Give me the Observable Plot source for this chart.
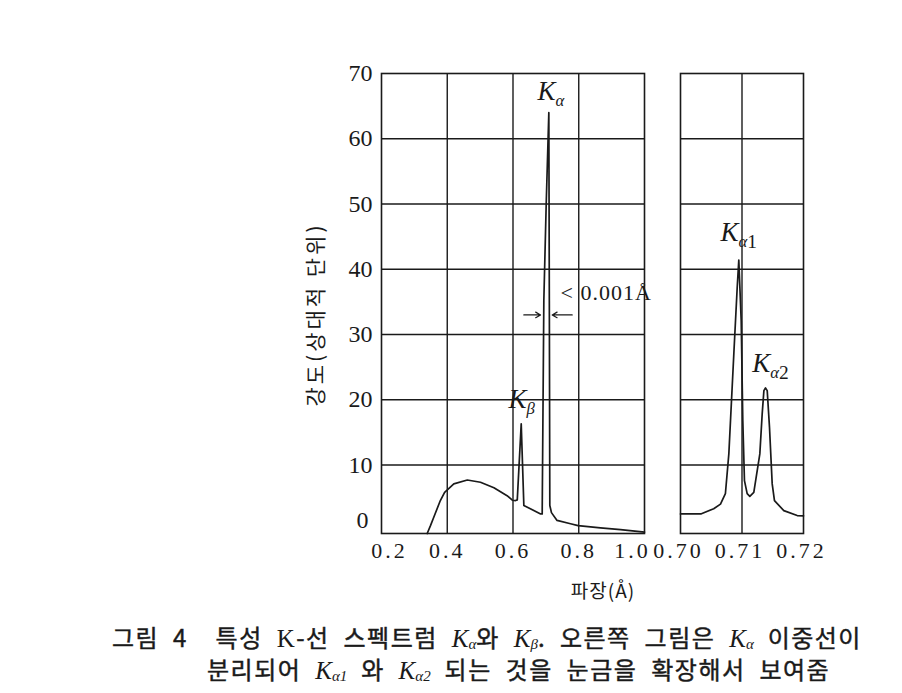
<!DOCTYPE html>
<html><head><meta charset="utf-8">
<script src="https://cdn.jsdelivr.net/npm/d3@7"></script>
<script src="https://cdn.jsdelivr.net/npm/@observablehq/plot@0.6"></script>
<style>
html,body{margin:0;padding:0;background:#fff;}
#wrap{position:relative;width:902px;height:693px;overflow:hidden;background:#fff;}
#wrap svg{position:absolute;left:0;top:0;}
#wrap svg [aria-label="x-axis tick label"] text{letter-spacing:3px;}
.cap{position:absolute;white-space:nowrap;font-family:"Noto Sans CJK KR";font-size:24px;line-height:24px;height:24px;color:#1a1a1a;letter-spacing:1.5px;word-spacing:7px;font-weight:400;-webkit-text-stroke:0.45px #1a1a1a;}
.cap i{font-family:"Liberation Serif";font-size:25px;line-height:24px;font-weight:normal;letter-spacing:0;-webkit-text-stroke:0;}
.cap .rm{font-family:"Liberation Serif";font-size:25px;line-height:24px;font-weight:normal;-webkit-text-stroke:0;}
.cap i sub{font-size:60%;line-height:0;vertical-align:baseline;position:relative;top:0.15em;}
</style></head>
<body><div id="wrap"></div>
<script>
// ---- data ----
const spectrumWavelength = [0.339, 0.349, 0.359, 0.379, 0.392, 0.420, 0.461, 0.501, 0.542, 0.582, 0.598, 0.608, 0.613, 0.625, 0.633, 0.684, 0.6888, 0.6938, 0.7011, 0.709, 0.7105, 0.712, 0.717, 0.734, 0.775, 0.798, 0.866, 0.927, 1.0];
const spectrumIntensity  = [-0.5, 0.7, 2.0, 4.55, 5.8, 7.1, 7.7, 7.35, 6.5, 5.3, 4.6, 4.55, 4.65, 16.3, 3.8, 2.5, 2.5, 35.2, 50.2, 64.0, 35.2, 3.8, 2.7, 1.5, 1.0, 0.7, 0.37, 0.1, -0.3];
const doubletWavelength = [0.700, 0.7033, 0.7054, 0.7065, 0.7073, 0.70786, 0.70867, 0.70922, 0.70948, 0.70987, 0.71013, 0.7104, 0.71084, 0.71127, 0.71192, 0.7129, 0.71328, 0.71356, 0.71382, 0.7141, 0.71447, 0.71491, 0.71528, 0.7168, 0.71897, 0.720];
const doubletIntensity  = [2.5, 2.5, 3.3, 4.0, 5.6, 11.7, 27.0, 37.2, 41.4, 32.1, 16.8, 7.6, 5.6, 5.2, 5.8, 11.7, 17.8, 21.4, 21.8, 21.4, 15.8, 7.1, 4.55, 3.0, 2.25, 2.2];
const leftXTicks = [0.2, 0.4, 0.6, 0.8, 1.0];
const rightXTicks = [0.70, 0.71, 0.72];
const yTicks = [0, 10, 20, 30, 40, 50, 60, 70];
const yGrid = [10, 20, 30, 40, 50, 60];
const leftGridX = [0.4, 0.6, 0.8];
const rightGridX = [0.71];
const leftLabelText = ["Kα", "Kβ"];
const leftLabelX = [0.6745, 0.5863];
const leftLabelY = [67.2, 20.1];
const rightLabelText = ["Kα1", "Kα2"];
const rightLabelX = [0.7065, 0.71166];
const rightLabelY = [45.7, 25.6];
const widthNote = "< 0.001Å";
const widthNoteX = 0.7445, widthNoteY = 36.3;
const arrowX1 = [0.6329, 0.7801];
const arrowX2 = [0.6837, 0.7193];
const arrowY = 33.0;
const yLabel = "강도(상대적 단위)";
const xLabel = "파장(Å)";

// ---- build ----
const spectrum = spectrumWavelength.map((w, i) => ({w, v: spectrumIntensity[i]}));
const doublet = doubletWavelength.map((w, i) => ({w, v: doubletIntensity[i]}));
const ink = "#1a1a1a";
const yDomain = [-0.5, 70];
const common = {
  width: 902, height: 600, marginTop: 73, marginBottom: 67,
  style: {background: "transparent", fontFamily: "Liberation Serif", fontSize: "22px", color: ink, overflow: "visible"}
};
const lineStyle = {stroke: ink, strokeOpacity: 1, strokeWidth: 1.4};
const fmt1 = d => d.toFixed(1);

const left = Plot.plot({
  ...common,
  marginLeft: 381, marginRight: 258,
  x: {domain: [0.2, 1.0]},
  y: {domain: yDomain},
  marks: [
    Plot.gridX(leftGridX, lineStyle),
    Plot.gridY(yGrid, lineStyle),
    Plot.frame({stroke: ink, strokeWidth: 1.6}),
    Plot.axisX(leftXTicks.slice(1, 4), {tickSize: 0, tickPadding: 9, tickFormat: fmt1, fontSize: 22, label: null}),
    Plot.axisX(leftXTicks.slice(0, 1), {tickSize: 0, tickPadding: 9, dx: 8, tickFormat: fmt1, fontSize: 22, label: null}),
    Plot.axisX(leftXTicks.slice(4), {tickSize: 0, tickPadding: 9, dx: -12, tickFormat: fmt1, fontSize: 22, label: null}),
    Plot.axisY(yTicks.slice(1), {tickSize: 0, tickPadding: 9, fontSize: 24, label: null}),
    Plot.axisY(yTicks.slice(0, 1), {tickSize: 0, tickPadding: 13, dy: -10, fontSize: 24, label: null}),
    Plot.line(spectrum, {x: "w", y: "v", stroke: ink, strokeWidth: 1.7}),
    Plot.text(leftLabelText, {x: (d, i) => leftLabelX[i], y: (d, i) => leftLabelY[i], textAnchor: "start", fontStyle: "italic", fontSize: 27, fill: ink}),
    Plot.text([widthNote], {x: () => widthNoteX, y: () => widthNoteY, textAnchor: "start", fontSize: 22, fill: ink}),
    Plot.arrow([0, 1], {x1: i => arrowX1[i], x2: i => arrowX2[i], y1: () => arrowY, y2: () => arrowY, stroke: ink, strokeWidth: 1.2, headLength: 7}),
    Plot.text([yLabel], {frameAnchor: "left", textAnchor: "middle", lineAnchor: "middle", dx: -65, dy: 11, rotate: -90, fontFamily: "Noto Sans CJK KR", fontSize: 21, fill: ink}),
    Plot.text([xLabel], {frameAnchor: "bottom", textAnchor: "middle", lineAnchor: "middle", dx: 90, dy: 58, fontFamily: "Noto Sans CJK KR", fontSize: 19, fill: ink})
  ]
});

const right = Plot.plot({
  ...common,
  marginLeft: 680, marginRight: 99,
  x: {domain: [0.70, 0.72]},
  y: {domain: yDomain, axis: null},
  marks: [
    Plot.gridX(rightGridX, lineStyle),
    Plot.gridY(yGrid, lineStyle),
    Plot.frame({stroke: ink, strokeWidth: 1.6}),
    Plot.axisX(rightXTicks, {tickSize: 0, tickPadding: 9, dx: -2, tickFormat: d => d.toFixed(2), fontSize: 22, label: null}),
    Plot.line(doublet, {x: "w", y: "v", stroke: ink, strokeWidth: 1.7}),
    Plot.text(rightLabelText, {x: (d, i) => rightLabelX[i], y: (d, i) => rightLabelY[i], textAnchor: "start", fontStyle: "italic", fontSize: 27, fill: ink})
  ]
});

const wrap = document.getElementById("wrap");
wrap.append(left, right);

// subscripts for K labels, letter spacing for Korean axis labels
for (const svg of [left, right]) {
  d3.select(svg).selectAll("text").each(function() {
    const t = this.textContent;
    const m = /^K([αβ])(\d?)$/.exec(t);
    if (m) {
      let html = `K<tspan font-size="62%" dy="0.35em">${m[1]}</tspan>`;
      if (m[2]) html += `<tspan font-size="72%" dy="0.05em" font-style="normal">${m[2]}</tspan>`;
      this.innerHTML = html;
    } else if (t === yLabel) {
      this.setAttribute("letter-spacing", "3px");
    } else if (t === xLabel) {
      this.setAttribute("letter-spacing", "1px");
    } else if (t === widthNote) {
      this.setAttribute("letter-spacing", "1px");
    }
  });
}

// caption
const cap1 = document.createElement("div");
cap1.className = "cap";
cap1.style.left = "112px"; cap1.style.top = "625px";
cap1.innerHTML = `그림 4&nbsp;&nbsp;특성 <span class="rm">K</span>-선 스펙트럼 <i>K<sub>α</sub></i>와 <i>K<sub>β</sub></i>. 오른쪽 그림은 <i>K<sub>α</sub></i> 이중선이`;
const cap2 = document.createElement("div");
cap2.className = "cap";
cap2.style.left = "207px"; cap2.style.top = "657px";
cap2.innerHTML = `분리되어 <i>K<sub>α1</sub></i> 와 <i>K<sub>α2</sub></i> 되는 것을 눈금을 확장해서 보여줌`;
wrap.append(cap1, cap2);
</script>
</body></html>
